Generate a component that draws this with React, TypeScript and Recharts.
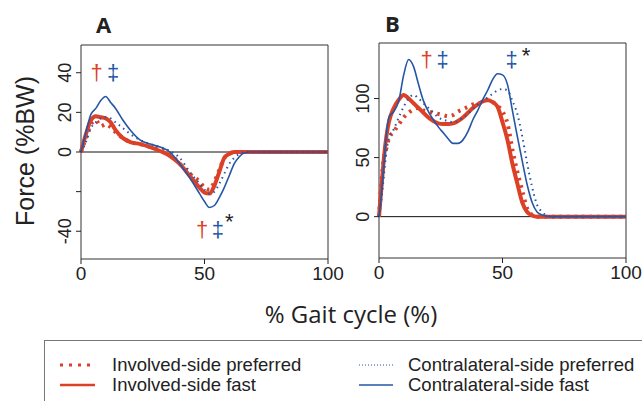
import { LineChart, Line, XAxis, YAxis, ReferenceLine, ReferenceArea, ReferenceDot } from 'recharts';

// gait cycle samples (%), panel A
const gaitA = [0, 2, 4, 6, 8, 10, 12, 14, 17, 20, 24, 28, 32, 36, 40, 44, 48, 50, 52, 54, 56, 58, 60, 62, 64, 66, 68, 70, 80, 90, 100];
const invPrefA = [0, 7, 14, 16, 13, 14, 12.5, 10, 7, 5, 4, 2.5, 1, -1, -6, -11, -15, -18, -19, -15, -9, -3, -1, 0, 0, 0, 0, 0, 0, 0, 0];
const invFastA = [0, 9, 16, 18, 17.5, 17, 15, 11, 7, 5, 4, 2.5, 0.5, -2, -6, -12, -18, -20.5, -21, -17, -10, -3, -1, 0, 0, 0, 0, 0, 0, 0, 0];
const conPrefA = [0, 5, 12, 15, 17, 17.5, 17, 15, 12, 9, 6, 4, 2.5, 0.5, -3, -10, -16, -19, -21, -20, -16, -11, -6, -3, -1, 0, 0, 0, 0, 0, 0];
const conFastA = [0, 10, 19, 22, 26, 28, 25, 22, 16, 11, 6, 4, 2.5, 0, -6, -13, -21, -25, -28, -27, -23, -18, -12, -6, -2.5, -0.5, 0, 0, 0, 0, 0];

// panel B
const gaitB = [0, 1, 2, 3, 4, 6, 8, 10, 12, 14, 16, 18, 20, 22, 24, 26, 28, 30, 32, 34, 36, 38, 40, 42, 44, 46, 48, 50, 52, 54, 56, 58, 60, 62, 64, 66, 68, 70, 80, 90, 100];
const invPrefB = [0, 30, 50, 58, 66, 72, 78, 84, 88, 91, 92, 90, 89, 88, 87, 86, 85, 86, 89, 91, 93, 95, 96, 97, 99, 97, 94, 89, 79, 57, 38, 22, 7, 1.5, 0, 0, 0, 0, 0, 0, 0];
const invFastB = [0, 25, 50, 68, 80, 92, 99, 103, 100, 96, 92, 88, 84, 81, 79, 78.5, 78.5, 79, 81, 84, 88, 92, 95, 97.5, 98.5, 97, 93, 80, 65, 45, 28, 12, 4, 1, 0, 0, 0, 0, 0, 0, 0];
const conPrefB = [0, 15, 35, 55, 66, 74, 84, 93, 100, 103, 100, 96, 92, 88, 84, 82, 81, 80, 81, 84, 87, 91, 95, 98, 101, 104, 107, 108, 107, 98, 87, 68, 45, 25, 10, 4, 1, 0, 0, 0, 0];
const conFastB = [0, 20, 45, 70, 84, 89, 98, 120, 133, 127, 112, 98, 89, 82, 76, 71, 66, 62, 62, 65, 72, 82, 90, 99, 107, 116, 121, 120, 112, 90, 68, 47, 27, 12, 4, 1.5, 0.3, 0, 0, 0, 0];

const ticksA = [-40, -20, 0, 20, 40];
const labelsA = ['-40', '', '0', '20', '40'];
const ticksB = [0, 50, 100];
const xTicks = [0, 50, 100];

const RED = '#dc4128';
const BLUE = '#2556a6';

const seriesNames = ['Involved-side preferred', 'Involved-side fast', 'Contralateral-side preferred', 'Contralateral-side fast'];

const notesA = [
  { x: 6.3, y: 40, text: '†', color: RED },
  { x: 13, y: 40, text: '‡', color: BLUE },
  { x: 49, y: -39, text: '†', color: RED },
  { x: 55.4, y: -39, text: '‡', color: BLUE },
  { x: 60, y: -35, text: '*', color: '#222' },
];
const notesB = [
  { x: 19.3, y: 133, text: '†', color: RED },
  { x: 25.8, y: 133, text: '‡', color: BLUE },
  { x: 53.7, y: 133, text: '‡', color: BLUE },
  { x: 59.5, y: 137, text: '*', color: '#222' },
];

const build = (gait: number[], a: number[], b: number[], c: number[], d: number[]) =>
  gait.map((g, i) => ({ gait: g, invPref: a[i], invFast: b[i], conPref: c[i], conFast: d[i] }));

const dataA = build(gaitA, invPrefA, invFastA, conPrefA, conFastA);
const dataB = build(gaitB, invPrefB, invFastB, conPrefB, conFastB);

const FONT = '"Liberation Sans", Arial, sans-serif';

function XTick(props: any) {
  const { x, y, payload } = props;
  return (
    <text x={x} y={y} dy="0.71em" textAnchor="middle" fontSize={19} fill="#222" fontFamily={FONT}>
      {payload.value}
    </text>
  );
}

function makeYTick(labels?: string[], ticks?: number[]) {
  return function YTick(props: any) {
    const { x, y, payload } = props;
    let label = String(payload.value);
    if (labels && ticks) label = labels[ticks.indexOf(payload.value)] ?? label;
    return (
      <text x={x} y={y} transform={`rotate(-90 ${x} ${y})`} textAnchor="middle" fontSize={18} fill="#222" fontFamily={FONT}>
        {label}
      </text>
    );
  };
}

function Note(props: any, text: string, color: string) {
  return (
    <text x={props.cx} y={props.cy} dy="0.35em" textAnchor="middle" fontSize={22} fill={color} fontFamily={FONT}>
      {text}
    </text>
  );
}

function Panel({ data, domain, ticks, tickLabels, notes }: any) {
  return (
    <>
      <XAxis dataKey="gait" type="number" domain={[0, 100]} ticks={xTicks} axisLine={false} tickSize={5} tickMargin={3} tick={<XTick />} stroke="#222" height={30} />
      <YAxis type="number" domain={domain} ticks={ticks} axisLine={false} tickSize={5} tickMargin={5} tick={makeYTick(tickLabels, ticks)} stroke="#222" width={30} allowDataOverflow />
      <ReferenceArea x1={0} x2={100} y1={domain[0]} y2={domain[1]} fill="none" stroke="#333" strokeWidth={1} />
      <ReferenceLine y={0} stroke="#111" strokeWidth={1} />
      <Line type="monotone" dataKey="invPref" data={data} stroke={RED} strokeWidth={4} strokeDasharray="2.5 5" dot={false} isAnimationActive={false} />
      <Line type="monotone" dataKey="invFast" data={data} stroke={RED} strokeWidth={4} dot={false} isAnimationActive={false} />
      <Line type="monotone" dataKey="conPref" data={data} stroke={BLUE} strokeWidth={2} strokeDasharray="1.5 4" dot={false} isAnimationActive={false} />
      <Line type="monotone" dataKey="conFast" data={data} stroke={BLUE} strokeWidth={1.6} dot={false} isAnimationActive={false} />
      {notes.map((n: any, i: number) => (
        <ReferenceDot key={i} x={n.x} y={n.y} r={0} shape={(p: any) => Note(p, n.text, n.color)} />
      ))}
    </>
  );
}

export default function App() {
  return (
    <div style={{ position: 'absolute', left: 0, top: 0, width: 642, height: 401, background: '#fff', overflow: 'hidden' }}>
      <div style={{ position: 'absolute', left: 0, top: 0 }}>
        <LineChart width={362} height={300} data={dataA} margin={{ top: 45, right: 34, bottom: 11, left: 51 }}>
          {Panel({ data: dataA, domain: [-54, 54], ticks: ticksA, tickLabels: labelsA, notes: notesA })}
        </LineChart>
      </div>
      <div style={{ position: 'absolute', left: 330, top: 0 }}>
        <LineChart width={312} height={300} data={dataB} margin={{ top: 43, right: 16, bottom: 12, left: 19 }}>
          {Panel({ data: dataB, domain: [-35, 147], ticks: ticksB, notes: notesB })}
        </LineChart>
      </div>
      <svg width={642} height={401} style={{ position: 'absolute', left: 0, top: 0, pointerEvents: 'none' }}>
        <text x={103.5} y={25} dy="0.35em" textAnchor="middle" fontSize={22} fontWeight="bold" fill="#222" fontFamily='"Open Sans", sans-serif'>A</text>
        <text x={392.5} y={24} dy="0.35em" textAnchor="middle" fontSize={22} fontWeight="bold" fill="#222" fontFamily='"Open Sans", sans-serif'>B</text>
        <text x={25} y={151} dy="0.35em" textAnchor="middle" fontSize={25} fill="#222" fontFamily={FONT} transform="rotate(-90 25 151)">Force (%BW)</text>
        <text x={351} y={315} dy="0.35em" textAnchor="middle" fontSize={24} fill="#222" fontFamily='"Open Sans", sans-serif'>% Gait cycle (%)</text>
        <rect x={44.5} y={340.5} width={640} height={100} fill="none" stroke="#777" strokeWidth={1} />
        <line x1={60} x2={95} y1={365} y2={365} stroke={RED} strokeWidth={3} strokeDasharray="3 6" />
        <line x1={60} x2={95} y1={385} y2={385} stroke={RED} strokeWidth={2.5} />
        <line x1={359} x2={393} y1={365} y2={365} stroke={BLUE} strokeWidth={1} strokeDasharray="1 2" />
        <line x1={359} x2={393} y1={385} y2={385} stroke={BLUE} strokeWidth={1.5} />
        <text x={112} y={365} dy="0.35em" fontSize={18.5} fill="#222" fontFamily={FONT}>{seriesNames[0]}</text>
        <text x={112} y={385} dy="0.35em" fontSize={18.5} fill="#222" fontFamily={FONT}>{seriesNames[1]}</text>
        <text x={408} y={365} dy="0.35em" fontSize={18.5} fill="#222" fontFamily={FONT}>{seriesNames[2]}</text>
        <text x={408} y={385} dy="0.35em" fontSize={18.5} fill="#222" fontFamily={FONT}>{seriesNames[3]}</text>
      </svg>
    </div>
  );
}
